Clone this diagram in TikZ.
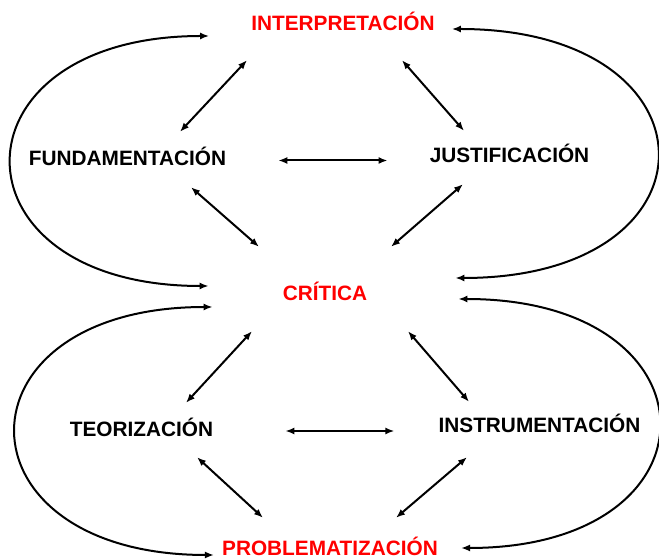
\documentclass[tikz,border=0pt]{standalone}
\usepackage{fontspec}
\setmainfont{Liberation Sans}
\usetikzlibrary{arrows.meta, positioning}
\tikzset{
    >={Latex[length=9pt,width=7pt]},
    % Labels
    concept/.style={font=\fontsize{20.8}{25}\selectfont\bfseries, inner sep=0pt,
                    text height=15pt, text depth=0pt, align=center},
    conceptRed/.style={concept, text=red},
    % Arrows
    flow/.style={<->, line width=2pt, black},
    arcFlow/.style={<->, line width=2pt, black}
}

\begin{document}
\begin{tikzpicture}[x=1pt, y=1pt, on grid]
\useasboundingbox (0,0) rectangle (659,559);

\node[conceptRed] (crit) at (325,265.5) {CRÍTICA};
\node[conceptRed, above right=270.5pt and 18pt of crit] (interp) {INTERPRETACIÓN};
\node[conceptRed, below right=254.5pt and 5pt of crit] (prob) {PROBLEMATIZACIÓN};
\node[concept, above left=135.5pt and 197.5pt of crit] (fund) {FUNDAMENTACIÓN};
\node[concept, above right=138.5pt and 184.5pt of crit] (just) {JUSTIFICACIÓN};
\node[concept, below left=135.5pt and 183.5pt of crit] (teor) {TEORIZACIÓN};
\node[concept, below right=131.5pt and 214.5pt of crit] (instr) {INSTRUMENTACIÓN};

% upper half
\draw[flow] ([shift={(-96,-29.5)}]interp.south) -- ([shift={(52.5,18.5)}]fund.north);
\draw[flow] ([shift={(59,-29.5)}]interp.south) -- ([shift={(-45.5,16.5)}]just.north);
\draw[flow] ([shift={(52,-2.5)}]fund.east) -- ([shift={(-42,-5.5)}]just.west);
\draw[flow] ([shift={(63.5,-21.5)}]fund.south) -- ([shift={(-66,39)}]crit.north);
\draw[flow] ([shift={(-46.5,-21.5)}]just.south) -- ([shift={(66,39)}]crit.north);

% lower half
\draw[flow] ([shift={(-73,-30)}]crit.south) -- ([shift={(44.5,18.5)}]teor.north);
\draw[flow] ([shift={(83,-30)}]crit.south) -- ([shift={(-70.5,15.5)}]instr.north);
\draw[flow] ([shift={(72,-2)}]teor.east) -- ([shift={(-44,-6)}]instr.west);
\draw[flow] ([shift={(55.5,-20.5)}]teor.south) -- ([shift={(-67,22.5)}]prob.north);
\draw[flow] ([shift={(-72.5,-24.5)}]instr.south) -- ([shift={(66,22.5)}]prob.north);

% outer loops
\draw[arcFlow] ([shift={(-42,-13)}]interp.west) .. controls +(-263,0) and +(-263,0) .. ([shift={(-74,7.5)}]crit.west);
\draw[arcFlow] ([shift={(17,-6)}]interp.east) .. controls +(271,0) and +(271,0) .. ([shift={(88,15.5)}]crit.east);
\draw[arcFlow] ([shift={(-70,-13.5)}]crit.west) .. controls +(-263,0) and +(-263,0) .. ([shift={(-8,-7)}]prob.west);
\draw[arcFlow] ([shift={(91,-5.5)}]crit.east) .. controls +(265,0) and +(265,0) .. ([shift={(23,0)}]prob.east);

\end{tikzpicture}
\end{document}
